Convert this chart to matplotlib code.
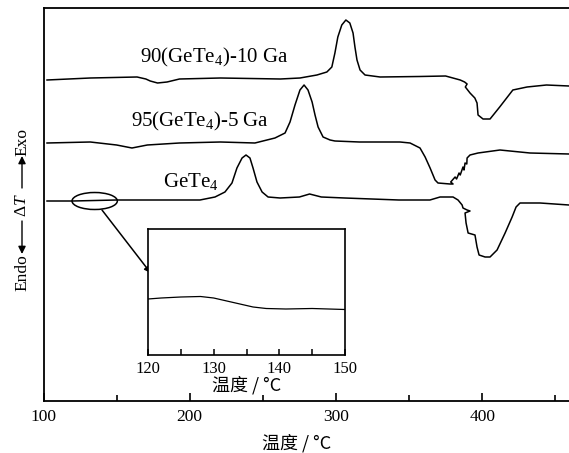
import matplotlib
matplotlib.use("Agg")
import matplotlib.pyplot as plt
from matplotlib.patches import Ellipse, FancyArrowPatch
from matplotlib.ticker import MultipleLocator

plt.rcParams['font.family'] = ['Liberation Serif', 'DejaVu Serif']
plt.rcParams['mathtext.fontset'] = 'custom'
plt.rcParams['mathtext.rm'] = 'Liberation Serif'
plt.rcParams['mathtext.it'] = 'Liberation Serif:italic'

# ---------------- data ----------------
t_ga10 = [102.4, 132, 164, 170, 173, 178, 184.5, 193, 221, 262, 275.4, 287, 293.8, 297.2, 299.3,
          301.3, 304, 306.8, 309.5, 311.7, 313, 314.4, 316.5, 319.9, 330.2, 357, 375, 385, 388,
          389.7, 388.5, 391.7, 395, 396.5, 397.2, 400.6, 405.4, 412, 421, 430.7, 444, 459.4]
s_ga10 = [321, 323, 324, 322, 320, 318, 319, 322, 323, 322, 323, 326, 329, 334, 348,
          364, 376, 381, 378, 368, 354, 341, 331, 326, 324, 324.5, 325, 321, 319,
          317, 314, 308, 303, 298, 286, 282, 282, 294, 311, 314, 316, 315]

t_ga5 = [102.4, 132, 150, 160.5, 171, 193, 221, 244.6, 258.3, 265.2, 268.6, 272, 275.4, 278.2,
         280.9, 283.7, 285.7, 287.8, 291.2, 296, 299.3, 316, 343.8, 350.7, 357.5, 361, 364.4,
         367.8, 369.8, 378, 380.1, 378.5, 381.5, 382.5, 384.2, 385, 386.9, 387.6, 388.3, 389.5,
         389.7, 391.7, 397.2, 412.2, 432.7, 459.4]
s_ga5 = [258, 259, 256, 253, 256, 258, 259, 258, 263, 268, 279, 296, 311, 316,
         311, 299, 286, 274, 264, 261, 260, 259, 259, 258, 253, 244, 233,
         221, 218, 217, 217, 219, 224, 222, 228, 226, 234, 231, 238, 237,
         243, 246, 248, 251, 248, 247]

t_gete4 = [102.4, 120, 150, 188.6, 207, 217.3, 224.1, 228.9, 232.3, 235.8, 238.5, 241.2, 243.3,
           246, 249.5, 253.6, 261.8, 275, 282, 290, 306, 343, 364.3, 371.2, 380.1, 383.5, 386.3,
           386.9, 389.7, 391.7, 388.3, 389, 390.4, 395.1, 396.5, 397.9, 402, 405.4, 410.2, 415.7,
           420.5, 423.2, 425.9, 439.6, 459.4]
s_gete4 = [200, 200, 201, 201, 201, 204, 209, 218, 233, 243, 246, 243, 233,
           219, 209, 204, 203, 204, 207, 204, 203, 201, 201, 204, 204, 201, 196,
           193, 191, 190, 188, 178, 168, 166, 154, 146, 144, 144, 151, 168,
           184, 194, 198, 198, 196]

t_inset = [120, 122, 125, 128, 130, 132, 134, 136, 138, 141, 145, 150]
s_inset = [56, 57, 58, 58.5, 57, 54, 51, 48, 46.5, 46, 46.5, 45.5]

labels = ["90(GeTe$_4$)-10 Ga", "95(GeTe$_4$)-5 Ga", "GeTe$_4$"]
main_xticks = [100, 200, 300, 400]
inset_xticks = [120, 130, 140, 150]
xlabel = "温度 / °C"

# ---------------- figure ----------------
W, H = 569, 453
fig = plt.figure(figsize=(W / 100, H / 100), dpi=100)

def fx(px):
    return px / W

def fy(py):
    return 1 - py / H

ax = fig.add_axes([fx(43.5), fy(401), fx(569) - fx(43.5), fy(8) - fy(401)])
lc = 'black'
for t, s in [(t_ga10, s_ga10), (t_ga5, s_ga5), (t_gete4, s_gete4)]:
    ax.plot(t, s, color=lc, lw=1.1, solid_joinstyle='round')
ax.set_xlim(100, 459.4)
ax.set_ylim(0, 393)
ax.set_yticks([])
ax.set_xticks(main_xticks)
ax.xaxis.set_minor_locator(MultipleLocator(50))
ax.tick_params(axis='x', which='major', direction='in', length=6, width=1.2,
               labelsize=12.5, pad=6)
ax.tick_params(axis='x', which='minor', direction='in', length=4, width=1.2)
for s in ['left', 'bottom', 'top']:
    ax.spines[s].set_linewidth(1.3)
ax.spines['right'].set_visible(False)

ax.text(216.5, 344, labels[0], ha='center', va='center', fontsize=15)
ax.text(207.0, 280, labels[1], ha='center', va='center', fontsize=15)
ax.text(200.5, 219, labels[2], ha='center', va='center', fontsize=15)

ax.add_patch(Ellipse((135, 200), 31, 17, fill=False, lw=1.1, ec='black'))
ax.annotate('', xy=(173.3, 128), xytext=(140, 191),
            arrowprops=dict(arrowstyle='-|>', color='black', lw=1.1,
                            mutation_scale=9, shrinkA=0, shrinkB=0))

fig.text(fx(297), fy(443), xlabel, ha='center', va='center', fontsize=13,
         family=['Noto Sans CJK SC', 'DejaVu Sans'])

# y label pieces
fig.text(fx(22), fy(142), "Exo", rotation=90, ha='center', va='center', fontsize=12.5)
fig.text(fx(22), fy(205), r"$\Delta T$", rotation=90, ha='center', va='center', fontsize=12.5)
fig.text(fx(22), fy(273), "Endo", rotation=90, ha='center', va='center', fontsize=12.5)
for tail, tip in [(188, 156), (221, 254)]:
    fig.add_artist(FancyArrowPatch(
        (fx(22), fy(tail)), (fx(22), fy(tip)), transform=fig.transFigure,
        arrowstyle='-|>', mutation_scale=11, color='black', lw=1.0,
        shrinkA=0, shrinkB=0))

# inset
axi = fig.add_axes([fx(148), fy(355), fx(345) - fx(148), fy(229) - fy(355)])
axi.plot(t_inset, s_inset, color='black', lw=0.9)
axi.set_xlim(120, 150)
axi.set_ylim(0, 126)
axi.set_yticks([])
axi.set_xticks(inset_xticks)
axi.xaxis.set_minor_locator(MultipleLocator(5))
axi.tick_params(axis='x', which='both', direction='in', length=4, width=1.1,
                labelsize=12, pad=4)
for s in axi.spines.values():
    s.set_linewidth(1.2)
fig.text(fx(247), fy(385), xlabel, ha='center', va='center', fontsize=13,
         family=['Noto Sans CJK SC', 'DejaVu Sans'])

fig.savefig('out.png', dpi=100)
